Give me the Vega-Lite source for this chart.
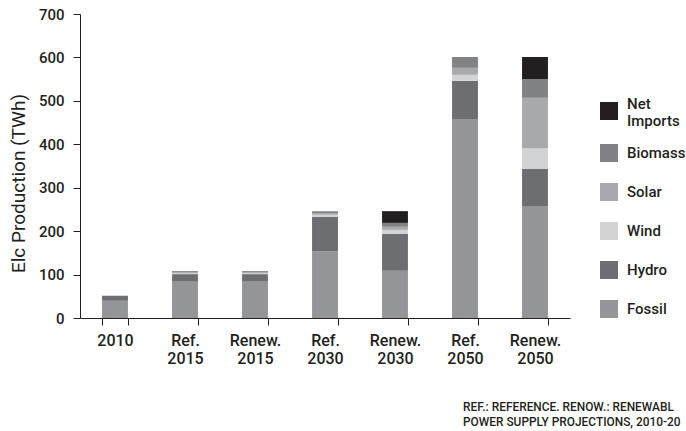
{
  "$schema": "https://vega.github.io/schema/vega-lite/v6.json",
  "autosize": "none",
  "width": 490,
  "height": 304,
  "padding": {"left": 80, "top": 14, "right": 116, "bottom": 113},
  "background": "white",
  "config": {
    "font": "Roboto",
    "view": {"stroke": null},
    "axis": {"domainColor": "#231f20", "tickColor": "#231f20", "labelColor": "#231f20", "titleColor": "#231f20", "labelFont": "Roboto", "titleFont": "Roboto", "grid": false}
  },
  "title": {
    "text": ["REF.: REFERENCE. RENOW.: RENEWABL", "POWER SUPPLY PROJECTIONS, 2010-20"],
    "orient": "bottom",
    "anchor": "start",
    "frame": "group",
    "dx": 383,
    "offset": 36,
    "fontSize": 11.9,
    "fontWeight": 500,
    "font": "Roboto",
    "color": "#231f20",
    "lineHeight": 15
  },
  "data": {
    "values": [
      {"scenario": "2010", "source": "Fossil", "value": 40},
      {"scenario": "2010", "source": "Hydro", "value": 11},
      {"scenario": "Ref. 2015", "source": "Fossil", "value": 85},
      {"scenario": "Ref. 2015", "source": "Hydro", "value": 16},
      {"scenario": "Ref. 2015", "source": "Wind", "value": 2},
      {"scenario": "Ref. 2015", "source": "Solar", "value": 2},
      {"scenario": "Ref. 2015", "source": "Biomass", "value": 3},
      {"scenario": "Renew. 2015", "source": "Fossil", "value": 85},
      {"scenario": "Renew. 2015", "source": "Hydro", "value": 16},
      {"scenario": "Renew. 2015", "source": "Wind", "value": 2},
      {"scenario": "Renew. 2015", "source": "Solar", "value": 2},
      {"scenario": "Renew. 2015", "source": "Biomass", "value": 3},
      {"scenario": "Ref. 2030", "source": "Fossil", "value": 153},
      {"scenario": "Ref. 2030", "source": "Hydro", "value": 80},
      {"scenario": "Ref. 2030", "source": "Wind", "value": 5},
      {"scenario": "Ref. 2030", "source": "Solar", "value": 4},
      {"scenario": "Ref. 2030", "source": "Biomass", "value": 4},
      {"scenario": "Renew. 2030", "source": "Fossil", "value": 109},
      {"scenario": "Renew. 2030", "source": "Hydro", "value": 85},
      {"scenario": "Renew. 2030", "source": "Wind", "value": 9},
      {"scenario": "Renew. 2030", "source": "Solar", "value": 7},
      {"scenario": "Renew. 2030", "source": "Biomass", "value": 9},
      {"scenario": "Renew. 2030", "source": "Net Imports", "value": 27},
      {"scenario": "Ref. 2050", "source": "Fossil", "value": 458},
      {"scenario": "Ref. 2050", "source": "Hydro", "value": 88},
      {"scenario": "Ref. 2050", "source": "Wind", "value": 14},
      {"scenario": "Ref. 2050", "source": "Solar", "value": 16},
      {"scenario": "Ref. 2050", "source": "Biomass", "value": 25},
      {"scenario": "Renew. 2050", "source": "Fossil", "value": 258},
      {"scenario": "Renew. 2050", "source": "Hydro", "value": 85},
      {"scenario": "Renew. 2050", "source": "Wind", "value": 48},
      {"scenario": "Renew. 2050", "source": "Solar", "value": 116},
      {"scenario": "Renew. 2050", "source": "Biomass", "value": 43},
      {"scenario": "Renew. 2050", "source": "Net Imports", "value": 51}
    ]
  },
  "transform": [
    {"calculate": "indexof(['Fossil','Hydro','Wind','Solar','Biomass','Net Imports'], datum.source)", "as": "stackRank"}
  ],
  "mark": {"type": "bar"},
  "encoding": {
    "x": {
      "field": "scenario",
      "type": "nominal",
      "sort": ["2010", "Ref. 2015", "Renew. 2015", "Ref. 2030", "Renew. 2030", "Ref. 2050", "Renew. 2050"],
      "scale": {"paddingInner": 0.63, "paddingOuter": 0.315},
      "axis": {
        "title": null,
        "labelAngle": 0,
        "labelExpr": "split(datum.label, ' ')",
        "labelAlign": "center",
        "labelBaseline": "top",
        "labelFontSize": 16,
        "labelFontWeight": 500,
        "labelLineHeight": 18,
        "labelPadding": 7,
        "tickBand": "extent",
        "tickSize": 7,
        "domainWidth": 1,
        "tickWidth": 1
      }
    },
    "y": {
      "field": "value",
      "type": "quantitative",
      "aggregate": "sum",
      "stack": "zero",
      "scale": {"domain": [0, 700], "nice": false},
      "axis": {
        "title": "Elc Production (TWh)",
        "values": [0, 100, 200, 300, 400, 500, 600, 700],
        "labelFontSize": 15,
        "labelFontWeight": 500,
        "labelPadding": 9,
        "tickSize": 7,
        "titleFontSize": 19,
        "titleFontWeight": "normal",
        "titlePadding": 10,
        "titleY": 169
      }
    },
    "color": {
      "field": "source",
      "type": "nominal",
      "sort": ["Net Imports", "Biomass", "Solar", "Wind", "Hydro", "Fossil"],
      "scale": {
        "domain": ["Net Imports", "Biomass", "Solar", "Wind", "Hydro", "Fossil"],
        "range": ["#231f20", "#808285", "#a7a9ac", "#d1d3d4", "#6d6e71", "#939598"]
      },
      "legend": {
        "title": null,
        "orient": "none",
        "legendX": 520,
        "legendY": 82,
        "symbolType": "square",
        "symbolSize": 324,
        "symbolStrokeWidth": 0,
        "symbolOpacity": 1,
        "labelFontSize": 15,
        "labelFontWeight": 500,
        "labelColor": "#231f20",
        "labelOffset": 9,
        "labelExpr": "datum.label == 'Net Imports' ? ['Net', 'Imports'] : datum.label",
        "labelLineHeight": 15,
        "clipHeight": 30,
        "rowPadding": 9,
        "encode": {
          "labels": {
            "update": {
              "dy": {"signal": "datum.value === 'Net Imports' ? -7.5 : 0"}
            }
          }
        }
      }
    },
    "order": {"field": "stackRank", "type": "quantitative", "sort": "ascending"}
  }
}
